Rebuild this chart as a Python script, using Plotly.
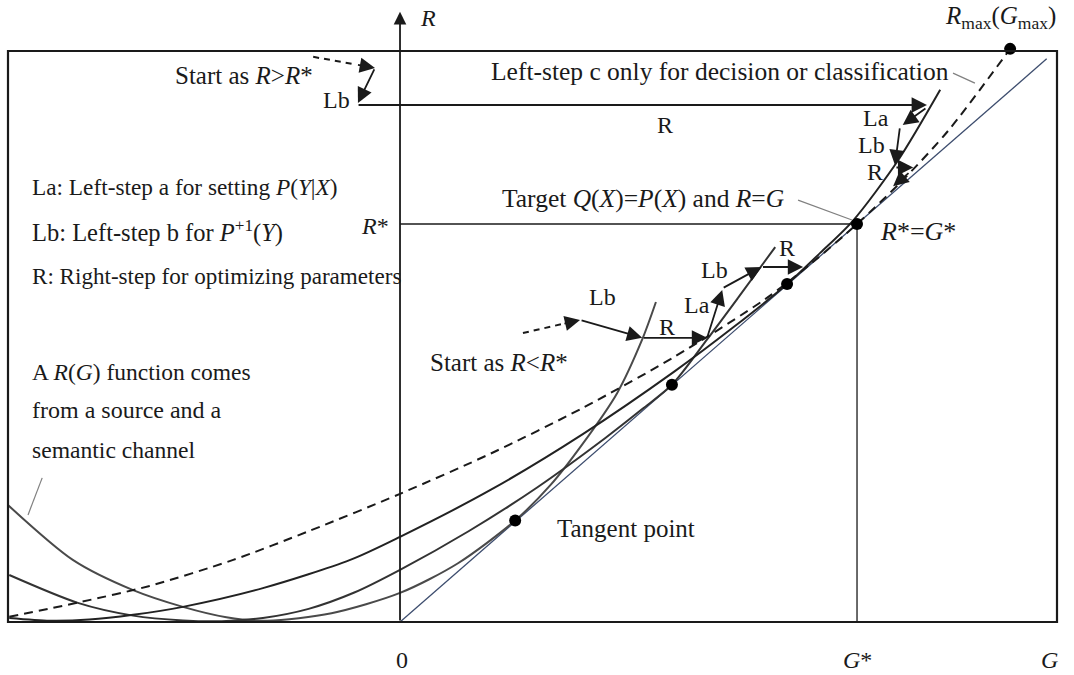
import plotly.graph_objects as go

# ---------------- data (G, R units; G* = R* = 10) ----------------
g_c1 = [-8.58, -7.16, -5.84, -4.75, -3.8, -2.9, -1.5, 0, 1.26, 2.52, 3.3, 3.98, 4.75, 5.3, 5.6]
r_c1 = [2.94, 1.56, 0.80, 0.38, 0.12, 0.03, 0.22, 0.73, 1.47, 2.55, 3.45, 4.45, 5.75, 7.1, 8.04]

g_c2 = [-8.55, -7.05, -5.84, -4.75, -3.9, -3.0, -2.0, -1.0, 0, 1.5, 3.0, 4.5, 5.3, 5.95, 6.72, 7.4, 8.21]
r_c2 = [1.18, 0.48, 0.16, 0.04, 0.02, 0.10, 0.33, 0.74, 1.31, 2.28, 3.38, 4.63, 5.35, 5.96, 7.1, 8.15, 9.42]

g_c3 = [-8.55, -7.66, -6.8, -5.84, -4.75, -3.0, -1.09, 0, 2, 4, 6, 7.3, 8.47, 9.2, 9.91, 10.9, 11.82]
r_c3 = [0.10, 0.03, 0.06, 0.18, 0.38, 0.85, 1.56, 2.14, 3.33, 4.72, 6.29, 7.41, 8.49, 9.28, 10.08, 11.6, 13.37]

g_dash = [-8.55, -7.0, -5.5, -3.65, -2.0, 0, 2.0, 4.0, 6.0, 8.0, 9.0, 10.0, 11.0, 12.0, 13.35]
r_dash = [0.13, 0.50, 0.90, 1.56, 2.28, 3.22, 4.24, 5.38, 6.66, 8.12, 9.01, 10.0, 11.1, 12.35, 14.4]

g_diag = [0, 14.15]
r_diag = [0, 14.15]

g_dots = [2.52, 5.95, 8.47, 10.0, 13.35]
r_dots = [2.55, 5.96, 8.49, 10.0, 14.4]

g_star = 10.0
r_star = 10.0

# step arrows: (g_tail, r_tail, g_head, r_head)
steps_solid = [
    (-0.547, 13.92, -0.92, 13.04),   # Lb (start R>R*)
    (-0.94, 12.99, 11.53, 12.99),    # R
    (11.53, 12.93, 11.0, 12.49),     # La
    (10.94, 12.44, 10.83, 11.48),    # Lb
    (10.83, 11.42, 11.23, 11.42),    # R
    (11.16, 11.31, 10.79, 10.95),    # La
    (3.94, 7.59, 5.30, 7.14),        # Lb (start R<R*)
    (5.30, 7.14, 6.72, 7.14),        # R
    (6.72, 7.14, 7.05, 8.34),        # La
    (7.05, 8.38, 7.91, 8.92),        # Lb
    (7.91, 8.92, 8.82, 8.92),        # R
]
steps_dashed = [
    (-1.90, 14.20, -0.547, 13.92),
    (2.69, 7.26, 3.94, 7.59),
]

# ---------------- figure ----------------
fig = go.Figure()
INK = "#1a1a1a"
FONT = "Liberation Serif"

def line(g, r, color=INK, width=2, dash=None, shape="spline"):
    fig.add_trace(go.Scatter(x=g, y=r, mode="lines",
                             line=dict(color=color, width=width, dash=dash, shape=shape, smoothing=0.8),
                             hoverinfo="skip", showlegend=False))

line(g_diag, r_diag, color="#3d4d6e", width=1.3, shape="linear")
line(g_c1, r_c1, color="#4a4a4a", width=2)
line(g_c2, r_c2, color="#333333", width=2)
line(g_c3, r_c3, color="#222222", width=2)
line(g_dash, r_dash, color=INK, width=2, dash="9px,6px")

# R* and G* guide lines
line([0, g_star], [r_star, r_star], color=INK, width=1.3, shape="linear")
line([g_star, g_star], [0, r_star], color=INK, width=1.3, shape="linear")

ARW = dict(showarrow=True, arrowhead=2, arrowsize=1.7, arrowwidth=1.8, arrowcolor=INK)

# dashed start segments
for g0, r0, g1, r1 in steps_dashed:
    gm = g0 + 0.7 * (g1 - g0)
    rm = r0 + 0.7 * (r1 - r0)
    line([g0, gm], [r0, rm], color=INK, width=2, dash="6px,5px", shape="linear")
    fig.add_annotation(x=g1, y=r1, ax=gm, ay=rm, axref="x", ayref="y", xref="x", yref="y",
                       text="", **ARW)

for g0, r0, g1, r1 in steps_solid:
    fig.add_annotation(x=g1, y=r1, ax=g0, ay=r0, axref="x", ayref="y", xref="x", yref="y",
                       text="", **ARW)

# dots
fig.add_trace(go.Scatter(x=g_dots, y=r_dots, mode="markers",
                         marker=dict(size=12, color="#000000"), hoverinfo="skip", showlegend=False))

# pointer lines
line([-7.83, -8.14], [3.62, 2.69], color="#808080", width=1.2, shape="linear")
line([8.71, 9.89], [10.60, 10.10], color="#808080", width=1.2, shape="linear")
line([12.10, 12.58], [13.79, 13.54], color="#808080", width=1.2, shape="linear")

# frame
fig.add_shape(type="rect", x0=-8.578, y0=0, x1=14.376, y1=14.347, xref="x", yref="y",
              line=dict(color=INK, width=2.2), layer="above")

# R axis with arrow
fig.add_annotation(x=0, y=15.33, ax=0, ay=0, axref="x", ayref="y", xref="x", yref="y",
                   text="", showarrow=True, arrowhead=2, arrowsize=1.4, arrowwidth=1.8, arrowcolor=INK)

def txt(g, r, s, anchor="left", size=24):
    fig.add_annotation(x=g, y=r, xref="x", yref="y", text=s, showarrow=False,
                       xanchor=anchor, yanchor="middle",
                       font=dict(family=FONT, size=size, color=INK))

txt(0.4, 15.18, "<i>R</i>")
txt(-1.85, 13.74, "Start as <i>R</i>&gt;<i>R</i>*", anchor="right", size=25)
txt(-1.05, 13.12, "Lb", anchor="right")
txt(5.80, 12.49, "R", anchor="center")
txt(1.95, 13.84, "Left-step c only for decision or classification", size=25.5)
txt(13.15, 15.18, "<i>R</i><sub>max</sub>(<i>G</i><sub>max</sub>)", anchor="center", size=25)
txt(10.75, 12.66, "La", anchor="right")
txt(10.65, 11.98, "Lb", anchor="right")
txt(10.62, 11.31, "R", anchor="right")
txt(-8.10, 10.93, "La: Left-step a for setting <i>P</i>(<i>Y</i>|<i>X</i>)", size=23.3)
txt(-8.10, 9.80, "Lb: Left-step b for <i>P</i><sup>+1</sup>(<i>Y</i>)", size=24.5)
txt(-8.10, 8.69, "R: Right-step for optimizing parameters", size=23.1)
txt(-0.2, 9.95, "<i>R</i>*", anchor="right")
txt(2.19, 10.65, "Target <i>Q</i>(<i>X</i>)=<i>P</i>(<i>X</i>) and <i>R</i>=<i>G</i>", size=25.5)
txt(10.45, 9.80, "<i>R</i>*=<i>G</i>*", size=26)
txt(4.42, 8.17, "Lb", anchor="center")
txt(5.84, 7.41, "R", anchor="center")
txt(6.50, 7.96, "La", anchor="center")
txt(6.89, 8.84, "Lb", anchor="center")
txt(8.47, 9.40, "R", anchor="center")
txt(0.61, 6.53, "Start as <i>R</i>&lt;<i>R</i>*", size=25)
txt(-8.10, 6.28, "A <i>R</i>(<i>G</i>) function comes", size=23.5)
txt(-8.10, 5.33, "from a source and a", size=24)
txt(-8.10, 4.32, "semantic channel", size=23.6)
txt(3.39, 2.36, "Tangent point", size=25)
txt(0.04, -0.95, "0", anchor="center")
txt(10.02, -0.95, "<i>G</i>*", anchor="center")
txt(14.22, -0.95, "<i>G</i>", anchor="center")

fig.update_layout(
    width=1074, height=675,
    margin=dict(l=0, r=0, t=0, b=0),
    paper_bgcolor="white", plot_bgcolor="white",
    showlegend=False,
    xaxis=dict(range=[-8.753, 14.748], visible=False, fixedrange=True),
    yaxis=dict(range=[-1.332, 15.628], visible=False, fixedrange=True),
)

fig.write_html("out.html",
               config={"displayModeBar": False},
               post_script="document.body.style.margin='0';document.body.style.overflow='hidden';")
